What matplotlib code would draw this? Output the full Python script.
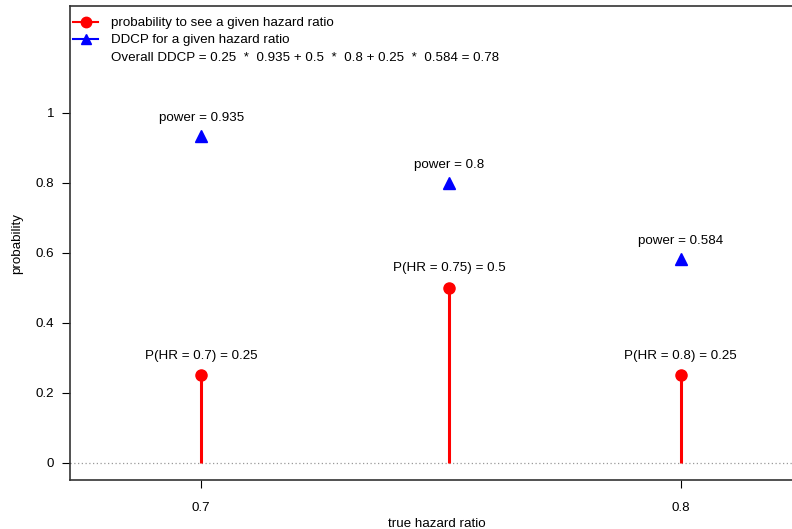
import matplotlib.pyplot as plt
from matplotlib.lines import Line2D

# Hazard ratios, prior probabilities and power at each one
hazard_ratios = [0.7, 0.75, 0.8]
prior_probs = [0.25, 0.5, 0.25]
power_values = [0.935, 0.8, 0.584]
prob_labels = ['P(HR = 0.7) = 0.25', 'P(HR = 0.75) = 0.5', 'P(HR = 0.8) = 0.25']
power_labels = ['power = 0.935', 'power = 0.8', 'power = 0.584']
overall_ddcp = 0.78

plt.rcParams['font.family'] = ['Liberation Sans', 'DejaVu Sans']
plt.rcParams['font.size'] = 9.6

fig = plt.figure(figsize=(7.92, 5.29), dpi=100)
ax = fig.add_axes([70 / 792, 49 / 529, 734 / 792, 474 / 529])

# Dotted reference line at zero
ax.axhline(0, color='#999999', linestyle=(0, (1, 2)), linewidth=0.9, zorder=1)

# Stems and points for the prior probabilities
ax.vlines(hazard_ratios, 0, prior_probs, color='red', linewidth=2.2, zorder=2)
ax.plot(hazard_ratios, prior_probs, 'o', color='red', markersize=8, zorder=3)

# Power at each hazard ratio
ax.plot(hazard_ratios, power_values, '^', color='blue', markersize=8.5, zorder=3)

for x, p, lab in zip(hazard_ratios, prior_probs, prob_labels):
    ax.annotate(lab, (x, p), xytext=(0, 10), textcoords='offset points',
                ha='center', va='bottom')
for x, p, lab in zip(hazard_ratios, power_values, power_labels):
    ax.annotate(lab, (x, p), xytext=(0, 8.5), textcoords='offset points',
                ha='center', va='bottom')

ax.set_xscale('log')
ax.set_xlim(0.6749, 0.8279)
ax.set_ylim(-0.0486, 1.3057)
ax.set_xticks([0.7, 0.8])
ax.set_xticklabels(['0.7', '0.8'])
ax.minorticks_off()
ax.set_yticks([0, 0.2, 0.4, 0.6, 0.8, 1])
ax.set_yticklabels(['0', '0.2', '0.4', '0.6', '0.8', '1'])
ax.tick_params(direction='out', length=5.5, width=0.8, pad=10)
ax.tick_params(axis='y', pad=6)
for side in ['left', 'bottom', 'top', 'right']:
    ax.spines[side].set_linewidth(1.2)
    ax.spines[side].set_color('#333333')

ax.set_xlabel('true hazard ratio', labelpad=3)
ax.set_ylabel('probability', labelpad=9)

# Legend
handles = [
    Line2D([], [], color='red', marker='o', markersize=7.5, linewidth=1.5),
    Line2D([], [], color='blue', marker='^', markersize=7.5, linewidth=1.5),
    Line2D([], [], color='none'),
]
texts = [
    'probability to see a given hazard ratio',
    'DDCP for a given hazard ratio',
    'Overall DDCP = 0.25  *  0.935 + 0.5  *  0.8 + 0.25  *  0.584 = %.2f' % overall_ddcp,
]
ax.legend(handles, texts, loc='upper left', bbox_to_anchor=(-0.0095, 0.998),
          frameon=False, handlelength=1.9, handletextpad=0.95,
          labelspacing=0.36, borderaxespad=0.45, borderpad=0.3)

fig.savefig('out.png', dpi=100)
